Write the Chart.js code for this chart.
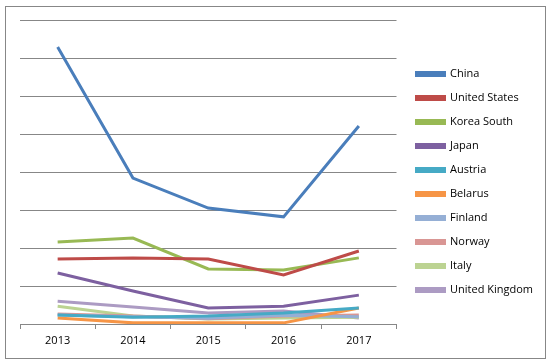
<!DOCTYPE html>
<html>
<head>
<meta charset="utf-8">
<script src="https://cdn.jsdelivr.net/npm/chart.js@4/dist/chart.umd.min.js"></script>
<style>
  body { margin: 0; background: #fff; }
  #wrap { position: relative; width: 552px; height: 364px; }
  #frame { position: absolute; left: 5px; top: 6px; width: 539px; height: 351px; border: 1px solid #878787; pointer-events: none; }
</style>
</head>
<body>
<div id="wrap">
  <canvas id="chart" width="552" height="364"></canvas>
  <div id="frame"></div>
</div>
<script>
// years on the x axis
const years = ["2013", "2014", "2015", "2016", "2017"];

// values (one gridline = 10)
const china       = [72.9, 38.4, 30.5, 28.2, 52.1];
const unitedStates = [17.1, 17.4, 17.1, 12.9, 19.2];
const koreaSouth  = [21.6, 22.6, 14.5, 14.2, 17.4];
const japan       = [13.4, 8.7, 4.2, 4.7, 7.6];
const austria     = [2.4, 1.8, 2.1, 2.9, 4.2];
const belarus     = [1.6, 0.3, 0.3, 0.3, 4.2];
const finland     = [2.4, 1.9, 1.5, 2.3, 1.9];
const norway      = [2.6, 2.1, 1.4, 2.1, 2.4];
const italy       = [4.7, 2.1, 1.3, 1.6, 1.8];
const unitedKingdom = [6.0, 4.5, 2.9, 3.4, 1.6];

const names = ["China", "United States", "Korea South", "Japan", "Austria", "Belarus", "Finland", "Norway", "Italy", "United Kingdom"];
const series = [china, unitedStates, koreaSouth, japan, austria, belarus, finland, norway, italy, unitedKingdom];
const colors = ["#4A7EBB", "#BE4B48", "#98B954", "#7D60A0", "#46AAC5", "#F69546", "#95AFD5", "#D99694", "#BCD392", "#AC9BC3"];

const datasets = series.map((s, i) => ({
  label: names[i],
  data: s,
  borderColor: colors[i],
  backgroundColor: colors[i],
  borderWidth: 3,
  pointRadius: 0,
  tension: 0,
  order: i
}));

// leave an empty strip between the plot and the legend
const legendGap = {
  id: "legendGap",
  beforeUpdate(chart) {
    const lg = chart.legend;
    if (!lg || lg._gapPatched) return;
    const fit = lg.fit;
    lg.fit = function () { fit.call(this); this.width += 9; };
    lg._gapPatched = true;
  },
  afterLayout(chart) {
    if (!chart.legend) return;
    chart.legend.left += 7;
    chart.legend.right += 7;
  }
};

new Chart(document.getElementById("chart"), {
  type: "line",
  data: { labels: years, datasets },
  plugins: [legendGap],
  options: {
    responsive: false,
    animation: false,
    layout: { padding: { left: 20, top: 20, right: 18, bottom: 20 } },
    plugins: {
      tooltip: { enabled: false },
      legend: {
        position: "right",
        labels: {
          boxWidth: 28,
          boxHeight: 3,
          padding: 13,
          color: "#000",
          font: { family: "Open Sans", size: 11 }
        }
      }
    },
    scales: {
      x: {
        offset: true,
        grid: { offset: true, drawOnChartArea: false, tickLength: 5, color: "#878787" },
        border: { color: "#878787" },
        ticks: { color: "#000", padding: 5, font: { family: "Open Sans", size: 11 } },
        afterFit: s => { s.height = 20; }
      },
      y: {
        min: 0,
        max: 80,
        ticks: { display: false, stepSize: 10 },
        grid: { color: "#878787", drawTicks: false },
        border: { display: false }
      }
    }
  }
});
</script>
</body>
</html>
